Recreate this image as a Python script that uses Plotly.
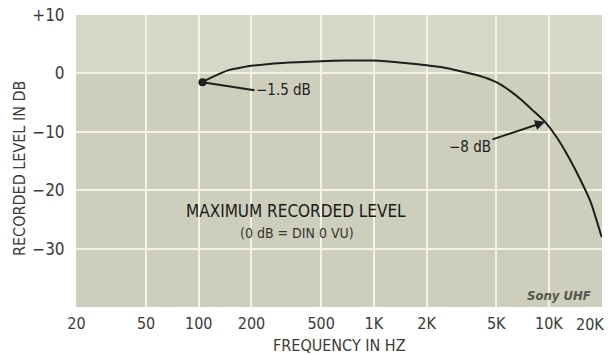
import math
import plotly.graph_objects as go

# Data
freq_hz = [105, 120, 135, 150, 175, 200, 300, 500, 700, 1000, 1500, 2000, 2500, 3000, 4000, 5000, 6000, 7000, 8000, 9500, 11000, 12500, 15000, 17300, 20000]
level_db = [-1.5, -0.6, 0.1, 0.6, 1.0, 1.3, 1.8, 2.1, 2.2, 2.2, 1.8, 1.4, 1.0, 0.5, -0.4, -1.5, -3.0, -4.6, -6.2, -8.3, -10.8, -13.5, -18.0, -22.0, -28.0]

x_tick_vals = [20, 50, 100, 200, 500, 1000, 2000, 5000, 10000, 20000]
x_tick_text = ["20", "50", "100", "200", "500", "1K", "2K", "5K", "10K", ""]
last_x_label = "20K"
y_tick_vals = [10, 0, -10, -20, -30]
y_tick_text = ["+10", "0", "\u221210", "\u221220", "\u221230"]

FONT = "Liberation Sans Narrow, DejaVu Sans Condensed, Arial Narrow, sans-serif"
INK = "#3a3a36"

fig = go.Figure()
fig.add_trace(go.Scatter(
    x=freq_hz, y=level_db, mode="lines",
    line=dict(color="#1e1e1c", width=2, shape="spline", smoothing=0.6),
    hoverinfo="skip", showlegend=False,
))
fig.add_trace(go.Scatter(
    x=[freq_hz[0]], y=[level_db[0]], mode="markers",
    marker=dict(color="#1e1e1c", size=8), hoverinfo="skip", showlegend=False,
))

fig.update_layout(
    width=611, height=355,
    margin=dict(l=76, r=9, t=15, b=48),
    paper_bgcolor="white",
    plot_bgcolor="#cdcfbc",
    font=dict(family=FONT, color=INK, size=16),
    xaxis=dict(
        type="log", range=[math.log10(19.9), math.log10(20100)],
        tickvals=x_tick_vals, ticktext=x_tick_text,
        showgrid=True, gridcolor="#f3f2e4", gridwidth=2,
        zeroline=False, showline=False, ticks="outside", ticklen=2, tickcolor="white",
        tickfont=dict(size=16, family=FONT, color=INK),
        automargin=False,
    ),
    yaxis=dict(
        range=[-40, 10],
        tickvals=y_tick_vals, ticktext=y_tick_text,
        showgrid=True, gridcolor="#f3f2e4", gridwidth=2,
        zeroline=False, showline=False, ticks="outside", ticklen=7, tickcolor="white",
        tickfont=dict(size=17, family=FONT, color=INK),
        automargin=False,
    ),
)

# lighter top band, as in the scan
fig.add_shape(type="rect", xref="paper", yref="y", x0=0, x1=1, y0=0, y1=10,
              fillcolor="#d5d7c8", line=dict(width=0), layer="below")

# Last x tick label, kept inside the page like the reference
fig.add_annotation(
    x=math.log10(20000), y=0, xref="x", yref="paper", xanchor="right", yanchor="top",
    xshift=4, yshift=-6, showarrow=False,
    text=last_x_label, font=dict(size=16, family=FONT, color=INK),
)

# Axis titles
fig.add_annotation(
    x=0.5, y=0, xref="paper", yref="paper", xanchor="center", yanchor="middle", yshift=-38, showarrow=False,
    text="FREQUENCY IN HZ", font=dict(size=16, family=FONT, color=INK),
)
fig.add_annotation(
    x=0, y=0.5, xref="paper", yref="paper", xanchor="center", yanchor="middle",
    xshift=-57, yshift=-8, showarrow=False, textangle=-90,
    text="RECORDED LEVEL IN DB", font=dict(size=16, family=FONT, color=INK),
)

# Curve notes
fig.add_annotation(
    x=math.log10(freq_hz[0]), y=level_db[0], xref="x", yref="y",
    text="\u22121.5 dB", showarrow=True, arrowhead=0, arrowwidth=2, arrowcolor="#1e1e1c",
    ax=52, ay=8, xanchor="left", font=dict(size=15, family=FONT, color="#222"),
)
fig.add_annotation(
    x=math.log10(9500), y=-8.3, xref="x", yref="y",
    text="\u22128 dB", showarrow=True, arrowhead=2, arrowsize=1, arrowwidth=2, arrowcolor="#1e1e1c",
    ax=-75, ay=25, font=dict(size=15, family=FONT, color="#222"),
)
fig.add_annotation(
    x=math.log10(360), y=-23.5, xref="x", yref="y", showarrow=False,
    text="MAXIMUM RECORDED LEVEL", font=dict(size=17, family=FONT, color="#1a1a1a"),
)
fig.add_annotation(
    x=math.log10(365), y=-27.3, xref="x", yref="y", showarrow=False,
    text="(0 dB = DIN 0 VU)", font=dict(size=14, family=FONT, color="#333"),
)
fig.add_annotation(
    x=1, y=0, xref="paper", yref="paper", xanchor="right", yanchor="bottom",
    xshift=-9, yshift=2, showarrow=False,
    text="<b><i>Sony UHF</i></b>", font=dict(size=13, family=FONT, color="#55554f"),
)

fig.write_html("out.html", config={"displayModeBar": False},
               post_script="document.body.style.margin='0';")
